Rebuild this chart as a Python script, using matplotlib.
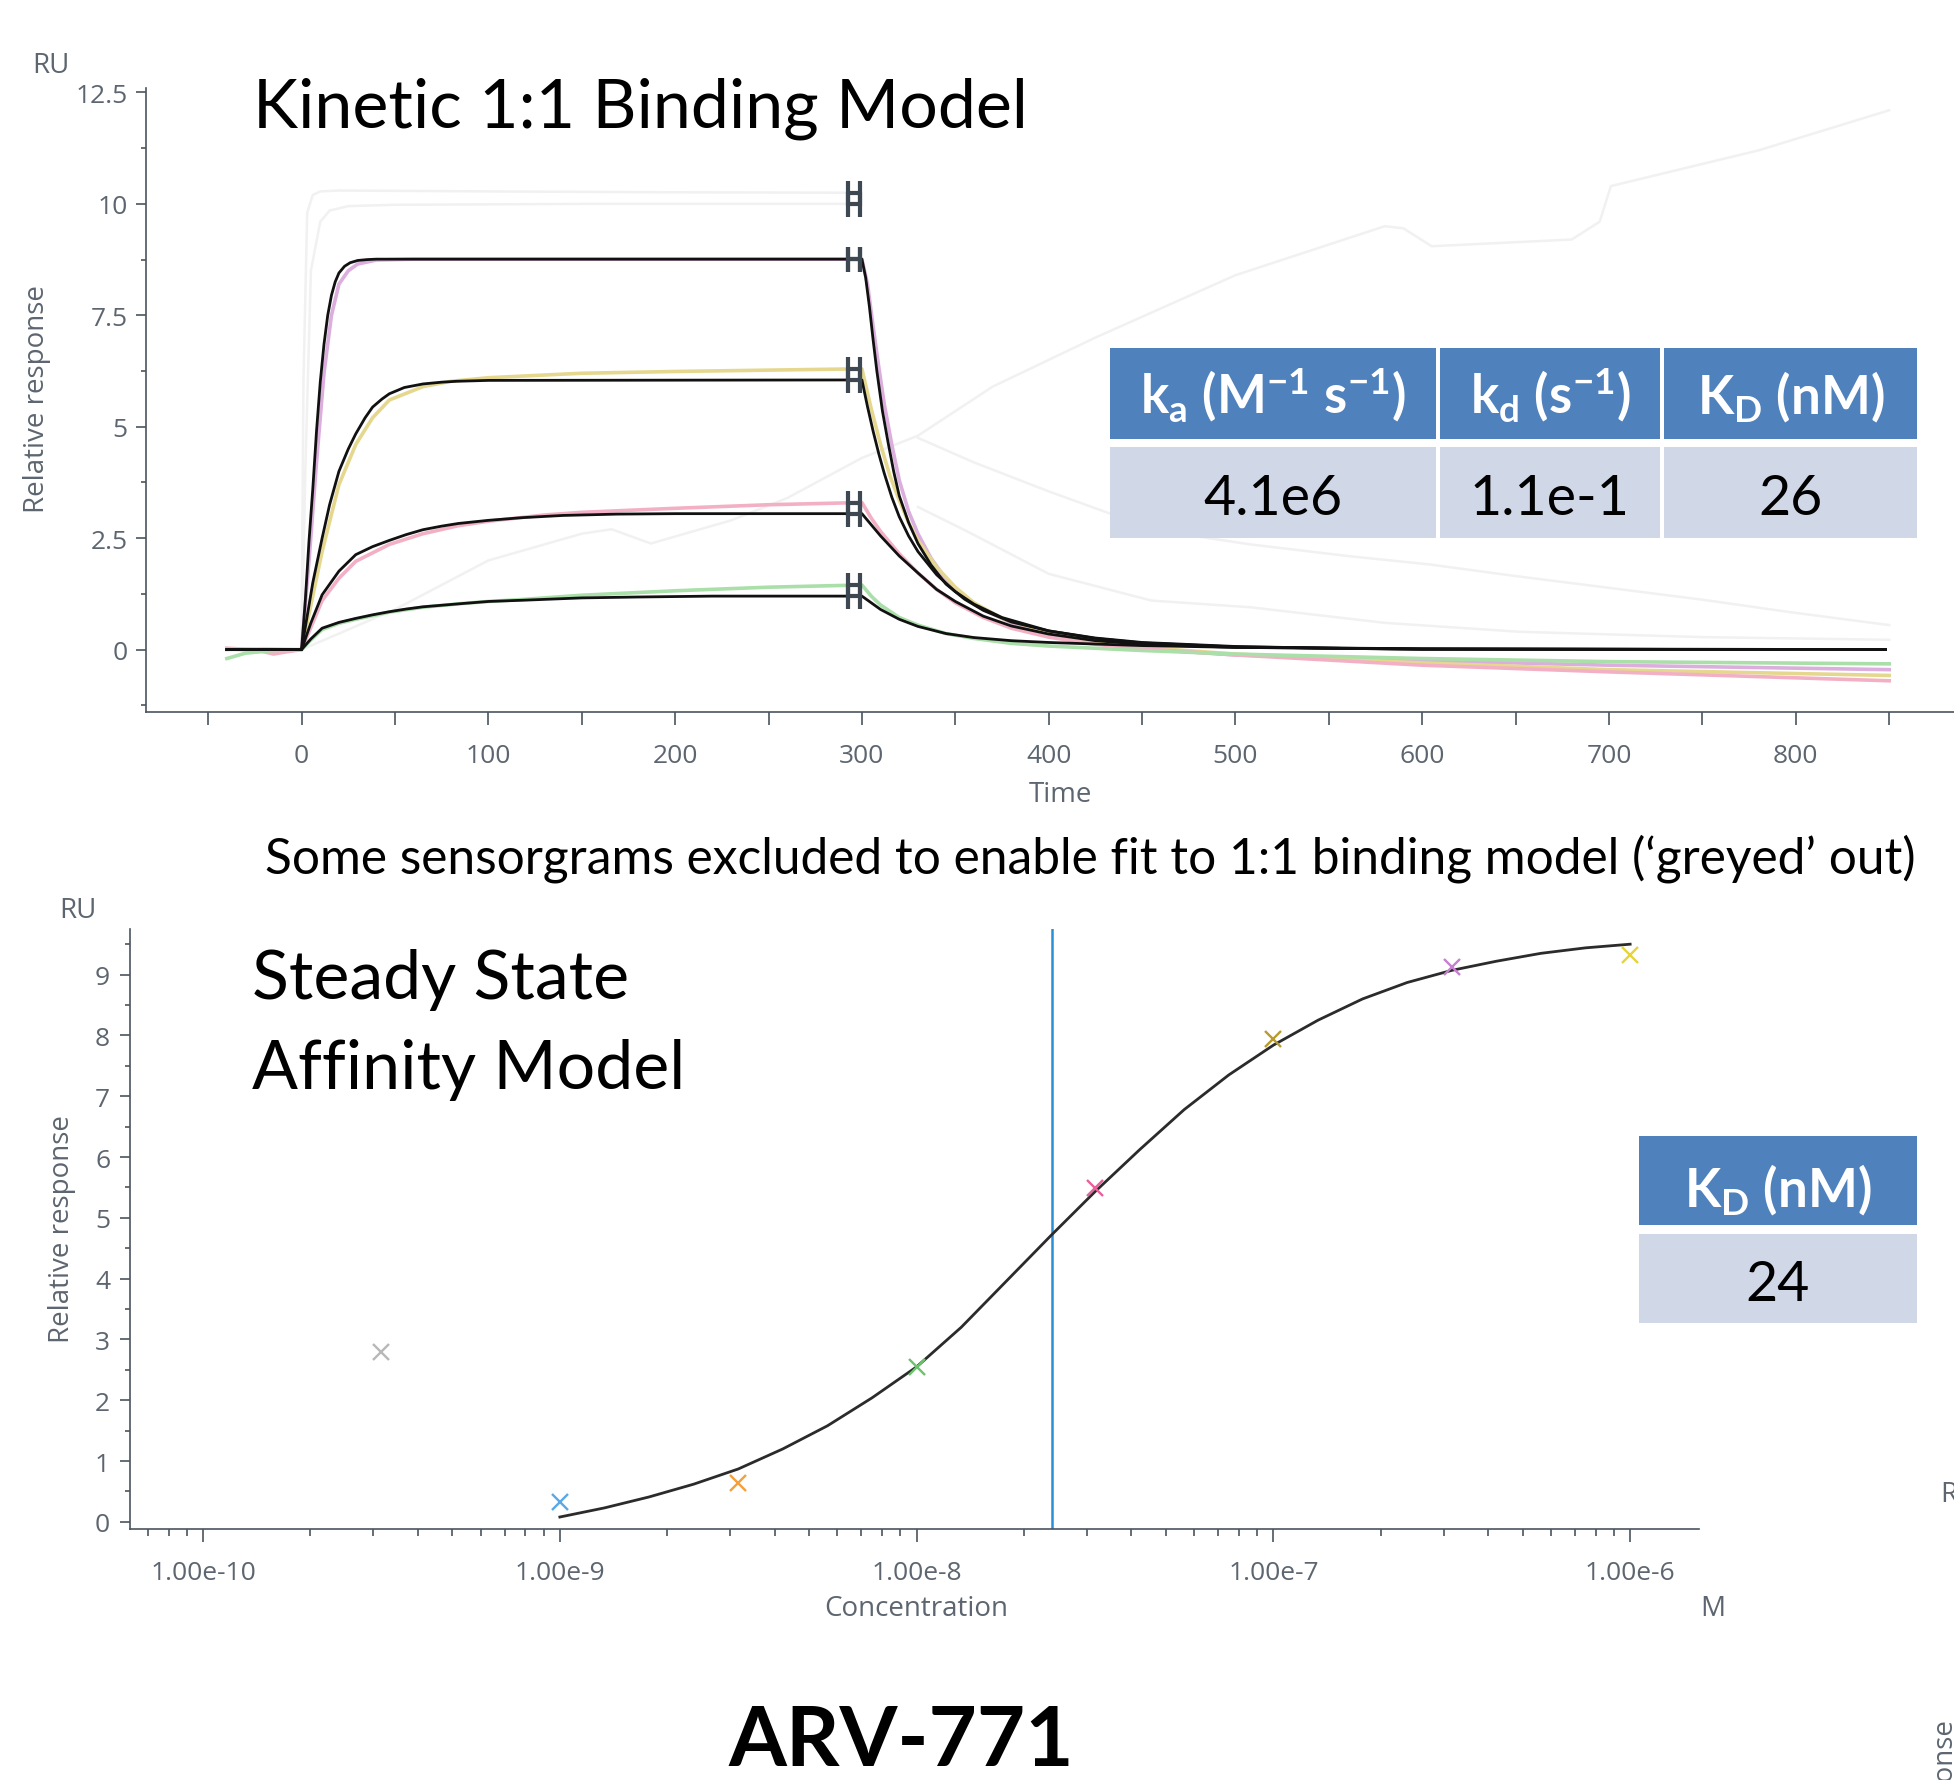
import numpy as np
import matplotlib
matplotlib.use('Agg')
import matplotlib.pyplot as plt
from matplotlib.path import Path
from matplotlib.patches import Rectangle
from matplotlib.ticker import LogLocator, NullFormatter

plt.rcParams['font.family'] = ['Open Sans', 'DejaVu Sans']
plt.rcParams['mathtext.fontset'] = 'custom'
plt.rcParams['mathtext.rm'] = 'Lato:bold'
plt.rcParams['mathtext.it'] = 'Lato:bold'
plt.rcParams['mathtext.bf'] = 'Lato:bold'
plt.rcParams['mathtext.default'] = 'rm'

# ---------------- kinetics sensorgrams (time s, response RU) ----------------
fit1_t = [-40, 0, 2, 4, 6, 8, 10, 12, 14, 16, 18, 20, 23, 26, 30, 35, 40, 300,
          302, 304, 306, 308, 311, 314, 317, 320, 325, 330, 337, 345, 355, 365, 380, 400, 425, 450, 500, 550, 600, 848]
fit1_v = [0, 0, 1.1, 2.45, 3.6, 4.9, 6.0, 6.85, 7.5, 7.95, 8.25, 8.45, 8.6, 8.68, 8.73, 8.75, 8.76, 8.76,
          8.35, 7.7, 6.95, 6.25, 5.35, 4.65, 4.0, 3.45, 2.85, 2.38, 1.9, 1.47, 1.13, 0.88, 0.62, 0.42, 0.26, 0.16, 0.07, 0.03, 0.01, 0]

fit2_t = [-40, 0, 3, 6, 11, 15, 20, 25, 29, 34, 38, 43, 47, 55, 65, 75, 83, 100, 300,
          303, 306, 309, 312, 316, 320, 325, 330, 340, 350, 360, 375, 400, 425, 450, 500, 600, 848]
fit2_v = [0, 0, 0.75, 1.5, 2.5, 3.25, 4.0, 4.5, 4.84, 5.2, 5.44, 5.62, 5.74, 5.88, 5.96, 6.0, 6.02, 6.04, 6.05,
          5.45, 4.9, 4.4, 3.95, 3.42, 2.98, 2.55, 2.2, 1.68, 1.3, 1.02, 0.72, 0.42, 0.25, 0.15, 0.06, 0.01, 0]

fit3_t = [-40, 0, 5, 11, 20, 29, 38, 47, 56, 65, 75, 84, 100, 118, 140, 169, 200, 300,
          305, 310, 320, 330, 340, 350, 365, 380, 400, 425, 450, 500, 600, 848]
fit3_v = [0, 0, 0.6, 1.23, 1.76, 2.13, 2.31, 2.45, 2.58, 2.69, 2.77, 2.83, 2.9, 2.96, 3.01, 3.04, 3.05, 3.05,
          2.8, 2.55, 2.1, 1.72, 1.35, 1.08, 0.75, 0.53, 0.35, 0.2, 0.12, 0.05, 0.01, 0]

fit4_t = [-40, 0, 5, 11, 20, 29, 38, 47, 56, 65, 85, 100, 120, 150, 180, 220, 300,
          305, 310, 320, 330, 345, 360, 380, 400, 450, 500, 600, 848]
fit4_v = [0, 0, 0.24, 0.48, 0.61, 0.70, 0.78, 0.85, 0.91, 0.96, 1.03, 1.08, 1.11, 1.16, 1.18, 1.2, 1.2,
          1.05, 0.9, 0.68, 0.52, 0.36, 0.27, 0.2, 0.16, 0.09, 0.05, 0.02, 0]

data1_t = [-40, -20, -15, -10, 0, 4, 8, 12, 16, 20, 25, 30, 40, 60, 300,
           303, 306, 309, 312, 316, 320, 325, 330, 337, 345, 355, 365, 380, 400, 425, 450, 500, 600, 700, 850]
data1_v = [0.02, -0.03, -0.08, -0.03, 0, 2.0, 4.2, 6.2, 7.5, 8.2, 8.5, 8.65, 8.74, 8.76, 8.76,
           8.2, 7.25, 6.35, 5.5, 4.6, 3.8, 3.1, 2.6, 2.05, 1.58, 1.18, 0.9, 0.6, 0.35, 0.15, 0.02, -0.12, -0.25, -0.35, -0.45]

data2_t = [-40, -20, 0, 5, 11, 20, 29, 38, 47, 65, 80, 100, 150, 200, 250, 300,
           305, 310, 315, 320, 325, 330, 340, 350, 360, 375, 400, 425, 450, 500, 600, 700, 850]
data2_v = [0.0, 0.02, 0, 1.0, 2.2, 3.7, 4.6, 5.2, 5.6, 5.9, 6.02, 6.1, 6.2, 6.24, 6.27, 6.3,
           5.4, 4.6, 3.9, 3.35, 2.85, 2.45, 1.85, 1.4, 1.05, 0.7, 0.38, 0.18, 0.05, -0.1, -0.3, -0.45, -0.58]

data3_t = [-40, -25, -15, -8, 0, 5, 11, 20, 29, 47, 65, 84, 100, 130, 150, 200, 250, 300,
           305, 310, 320, 330, 340, 350, 365, 380, 400, 425, 450, 500, 600, 700, 850]
data3_v = [0.03, 0.0, -0.1, -0.05, 0, 0.5, 1.1, 1.6, 1.98, 2.36, 2.6, 2.78, 2.88, 3.02, 3.08, 3.17, 3.25, 3.3,
           2.95, 2.65, 2.15, 1.72, 1.35, 1.05, 0.72, 0.48, 0.28, 0.12, 0.02, -0.12, -0.35, -0.5, -0.7]

data4_t = [-40, -30, -15, 0, 5, 11, 20, 29, 47, 65, 85, 100, 120, 150, 200, 250, 300,
           305, 310, 320, 330, 345, 360, 380, 400, 450, 500, 600, 700, 850]
data4_v = [-0.2, -0.08, -0.02, 0, 0.22, 0.45, 0.59, 0.68, 0.84, 0.95, 1.03, 1.08, 1.13, 1.22, 1.32, 1.4, 1.45,
           1.2, 1.0, 0.72, 0.55, 0.36, 0.25, 0.14, 0.08, -0.02, -0.1, -0.2, -0.27, -0.32]

# excluded ('greyed out') sensorgrams
grey1_t = [-40, 0, 1, 3, 6, 10, 20, 100, 200, 296]
grey1_v = [0, 0, 6.0, 9.8, 10.2, 10.28, 10.3, 10.28, 10.26, 10.25]
grey2_t = [-40, 0, 2, 5, 10, 15, 25, 50, 150, 296]
grey2_v = [0, 0, 4.0, 8.5, 9.6, 9.85, 9.95, 9.98, 10.0, 10.0]
grey3_t = [0, 25, 50, 100, 150, 166, 187, 230, 260, 300, 330, 370, 425, 500, 580, 590, 605, 680, 695, 701, 780, 850]
grey3_v = [0, 0.45, 0.9, 2.0, 2.6, 2.7, 2.38, 2.9, 3.4, 4.3, 4.8, 5.9, 7.0, 8.4, 9.5, 9.45, 9.05, 9.2, 9.6, 10.4, 11.2, 12.1]
grey4_t = [330, 360, 400, 433, 470, 508, 560, 604, 650, 701, 750, 797, 850]
grey4_v = [4.75, 4.2, 3.55, 3.05, 2.6, 2.36, 2.1, 1.91, 1.65, 1.38, 1.12, 0.84, 0.55]
grey5_t = [330, 356, 400, 455, 508, 580, 652, 750, 850]
grey5_v = [3.2, 2.66, 1.7, 1.1, 0.95, 0.6, 0.4, 0.28, 0.22]

fits = [(fit1_t, fit1_v), (fit2_t, fit2_v), (fit3_t, fit3_v), (fit4_t, fit4_v)]
datas = [(data1_t, data1_v), (data2_t, data2_v), (data3_t, data3_v), (data4_t, data4_v)]
data_colors = ['#dcaedd', '#e5d88e', '#f3b0c4', '#aadfaa']
greys = [(grey1_t, grey1_v), (grey2_t, grey2_v), (grey3_t, grey3_v), (grey4_t, grey4_v), (grey5_t, grey5_v)]

# ---------------- steady state affinity ----------------
ss_conc = [3.16e-10, 1e-9, 3.16e-9, 1e-8, 3.16e-8, 1e-7, 3.16e-7, 1e-6]
ss_resp = [2.80, 0.33, 0.64, 2.55, 5.49, 7.94, 9.12, 9.33]
ss_colors = ['#b8b8b8', '#5aa9e6', '#f5a03c', '#6cc36c', '#ea5f9b', '#b99a2e', '#c77fcf', '#e6d43a']
# fitted steady-state curve, read at log10(concentration) steps
ss_fit_logc = [-9.0, -8.875, -8.75, -8.625, -8.5, -8.375, -8.25, -8.125, -8.0, -7.875, -7.75, -7.625,
               -7.5, -7.375, -7.25, -7.125, -7.0, -6.875, -6.75, -6.625, -6.5, -6.375, -6.25, -6.125, -6.0]
ss_fit_resp = [0.08, 0.23, 0.41, 0.62, 0.87, 1.2, 1.58, 2.04, 2.55, 3.2, 3.95, 4.7,
               5.43, 6.12, 6.78, 7.35, 7.84, 8.25, 8.6, 8.87, 9.07, 9.22, 9.35, 9.44, 9.5]

kin_headers = [r'k$_{a}$ (M$^{-1}$ s$^{-1}$)', r'k$_{d}$ (s$^{-1}$)', r'K$_{D}$ (nM)']
kin_values = ['4.1e6', '1.1e-1', '26']
ss_header = r'K$_{D}$ (nM)'
ss_kd_nM = 24

top_yticks = [0, 2.5, 5, 7.5, 10, 12.5]
top_ylabels = ['0', '2.5', '5', '7.5', '10', '12.5']
bot_xticks = [1e-10, 1e-9, 1e-8, 1e-7, 1e-6]
bot_xlabels = ['1.00e-10', '1.00e-9', '1.00e-8', '1.00e-7', '1.00e-6']

# ---------------- figure ----------------
W, H = 1954, 1781
fig = plt.figure(figsize=(W / 100, H / 100), dpi=100)


def px_axes(l, t, r, b):
    return fig.add_axes([l / W, 1 - b / H, (r - l) / W, (b - t) / H])


spine_c = '#4a5560'
tick_c = '#5d6670'

ax1 = px_axes(145.8, 89, 1954, 713)
ax2 = px_axes(129.6, 930, 1699, 1530)

for ax in (ax1, ax2):
    for s in ('top', 'right'):
        ax.spines[s].set_visible(False)
    for s in ('left', 'bottom'):
        ax.spines[s].set_color(spine_c)
        ax.spines[s].set_linewidth(1.2)
    ax.set_facecolor('none')

# top chart
for (t, v) in greys:
    ax1.plot(t, v, color='#f1f1f1', lw=1.8, zorder=1)
for (t, v), c in zip(datas, data_colors):
    ax1.plot(t, v, color=c, lw=2.6, zorder=2)
for (t, v) in fits:
    ax1.plot(t, v, color='#111111', lw=2.0, zorder=3)

hpath = Path([(-0.25, -0.5), (-0.25, 0.5), (0.25, -0.5), (0.25, 0.5), (-0.25, 0.0), (0.25, 0.0)],
             [Path.MOVETO, Path.LINETO, Path.MOVETO, Path.LINETO, Path.MOVETO, Path.LINETO])
h_vals = [np.interp(296, t, v) for (t, v) in fits + datas + greys[:2]]
ax1.plot([296] * len(h_vals), h_vals, linestyle='none', marker=hpath, markersize=18,
         markeredgewidth=3.0, color='#3d4853', zorder=4)

ax1.set_xlim(-83.4, 884.7)
ax1.set_ylim(-1.40, 12.6)
ax1.set_xticks(range(0, 900, 100))
ax1.set_xticks(range(-50, 900, 100), minor=True)
ax1.set_yticks(top_yticks)
ax1.set_yticklabels(top_ylabels)
ax1.set_yticks(np.arange(-1.25, 12.5, 2.5), minor=True)
ax1.tick_params(axis='x', which='both', length=9, width=1.2, color=spine_c, pad=13,
                labelsize=19, labelcolor=tick_c)
ax1.tick_params(axis='y', which='major', length=7, width=1.2, color=spine_c, pad=6,
                labelsize=19, labelcolor=tick_c)
ax1.tick_params(axis='y', which='minor', length=3.5, width=1.2, color=spine_c)

# bottom chart
ax2.set_xscale('log')
ax2.plot(10.0 ** np.array(ss_fit_logc), ss_fit_resp, color='#2b2b2b', lw=2.0, zorder=3)
for x, y, c in zip(ss_conc, ss_resp, ss_colors):
    ax2.plot(x, y, marker='x', markersize=11, markeredgewidth=1.7, color=c, linestyle='none', zorder=4)
ax2.axvline(ss_kd_nM * 1e-9, color='#2b8fd6', lw=1.8, zorder=2)
ax2.set_xlim(10 ** -10.206, 10 ** -5.807)
ax2.set_ylim(-0.117, 9.75)
ax2.set_xticks(bot_xticks)
ax2.set_xticklabels(bot_xlabels)
ax2.xaxis.set_minor_locator(LogLocator(base=10, subs=np.arange(2, 10)))
ax2.xaxis.set_minor_formatter(NullFormatter())
ax2.set_yticks(range(0, 10))
ax2.set_yticks(np.arange(0.5, 9.6, 1), minor=True)
ax2.tick_params(axis='x', which='major', length=9, width=1.2, color=spine_c, pad=13,
                labelsize=19, labelcolor=tick_c)
ax2.tick_params(axis='x', which='minor', length=5, width=1.2, color=spine_c)
ax2.tick_params(axis='y', which='major', length=7, width=1.2, color=spine_c, pad=7,
                labelsize=19, labelcolor=tick_c)
ax2.tick_params(axis='y', which='minor', length=3.5, width=1.2, color=spine_c)

# ---------------- overlay in pixel coordinates ----------------
ov = fig.add_axes([0, 0, 1, 1], zorder=10)
ov.set_xlim(0, W)
ov.set_ylim(H, 0)
ov.axis('off')
ov.patch.set_alpha(0)

lab = dict(color=tick_c, fontsize=20, ha='center', va='center')
ov.text(51, 66, 'RU', **lab)
ov.text(37, 399, 'Relative response', rotation=90, **lab)
ov.text(1060, 795, 'Time', **lab)
ov.text(78, 911, 'RU', **lab)
ov.text(62, 1229, 'Relative response', rotation=90, **lab)
ov.text(916, 1609, 'Concentration', **lab)
ov.text(1713, 1609, 'M', **lab)
# fragments of a neighbouring chart cut by the right edge
ov.text(1940, 1495, 'RU', color=tick_c, fontsize=20, ha='left', va='center')
ov.text(1946, 1720, 'Relative response', rotation=90, color=tick_c, fontsize=20, ha='center', va='top')

ov.text(253, 128, 'Kinetic 1:1 Binding Model', family='Lato', fontsize=49, color='black', va='baseline')
ov.text(252, 999, 'Steady State', family='Lato', fontsize=49, color='black', va='baseline')
ov.text(252, 1089, 'Affinity Model', family='Lato', fontsize=49, color='black', va='baseline')
ov.text(265, 874, 'Some sensorgrams excluded to enable fit to 1:1 binding model (\u2018greyed\u2019 out)',
        family='Lato', fontsize=35.7, color='black', va='baseline')
ov.text(901, 1766, 'ARV-771', family='Lato', fontweight='bold', fontsize=60, color='black',
        ha='center', va='baseline')

head_c = '#4f81bd'
body_c = '#d0d8e8'
cols = [(1110, 1436), (1440, 1660), (1664, 1917)]
for (x0, x1), htxt, vtxt in zip(cols, kin_headers, kin_values):
    ov.add_patch(Rectangle((x0, 349), x1 - x0, 91, color=head_c, lw=0))
    ov.add_patch(Rectangle((x0, 448), x1 - x0, 91, color=body_c, lw=0))
    xc = (x0 + x1) / 2
    ov.text(xc, 414, htxt, family='Lato', fontweight='bold', fontsize=38, color='white',
            ha='center', va='baseline')
    ov.text(xc, 515, vtxt, family='Lato', fontsize=40, color='black', ha='center', va='baseline')

ov.add_patch(Rectangle((1639, 1137), 278, 89, color=head_c, lw=0))
ov.add_patch(Rectangle((1639, 1235), 278, 89, color=body_c, lw=0))
ov.text(1778, 1207, ss_header, family='Lato', fontweight='bold', fontsize=38, color='white',
        ha='center', va='baseline')
ov.text(1778, 1301, str(ss_kd_nM), family='Lato', fontsize=40, color='black', ha='center', va='baseline')

fig.savefig('out.png', dpi=100)
